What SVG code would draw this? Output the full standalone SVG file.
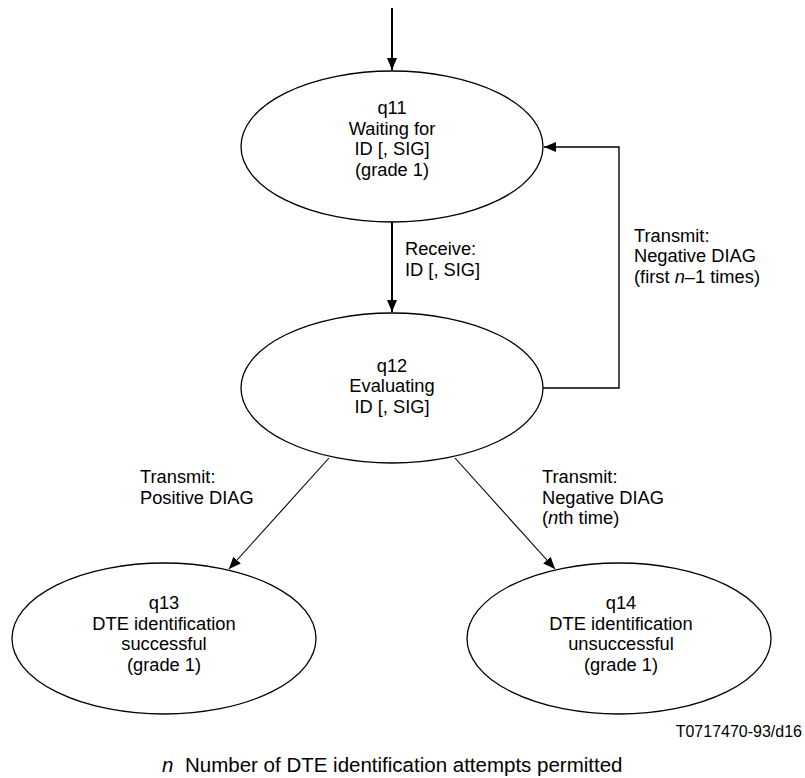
<svg xmlns="http://www.w3.org/2000/svg" width="805" height="778" viewBox="0 0 805 778">
<style>
text{font-family:"Liberation Sans",Arial,sans-serif;font-size:18.3px;fill:#000}
.c{text-anchor:middle}
.node{fill:#fff;stroke:#000;stroke-width:1.3}
.edge{fill:none;stroke:#000}
.i{font-style:italic}
</style>
<defs>
<marker id="ah" markerUnits="userSpaceOnUse" markerWidth="12" markerHeight="10" refX="12" refY="5" orient="auto">
<path d="M0,0 L12,5 L0,10 z" fill="#000"/>
</marker>
</defs>
<rect width="805" height="778" fill="#fff"/>
<g id="connectors">
<line class="edge" x1="392" y1="8" x2="392" y2="70" stroke-width="2" marker-end="url(#ah)"/>
<line class="edge" x1="392" y1="222" x2="392" y2="312" stroke-width="2" marker-end="url(#ah)"/>
<polyline class="edge" points="543,388 619,388 619,147 544,147" stroke-width="1.4" marker-end="url(#ah)"/>
<line class="edge" x1="329" y1="458" x2="229" y2="569" stroke-width="1.1" marker-end="url(#ah)"/>
<line class="edge" x1="455" y1="458" x2="555" y2="569" stroke-width="1.1" marker-end="url(#ah)"/>
<text x="405" y="255">Receive:<tspan x="405" y="275.5">ID [, SIG]</tspan></text>
<text x="634" y="241.5">Transmit:<tspan x="634" y="262">Negative DIAG</tspan><tspan x="634" y="282.5">(first <tspan class="i">n</tspan>–1 times)</tspan></text>
<text x="140" y="483.25">Transmit:<tspan x="140" y="503.75">Positive DIAG</tspan></text>
<text x="542" y="483">Transmit:<tspan x="542" y="503.5">Negative DIAG</tspan><tspan x="542" y="524">(<tspan class="i">n</tspan>th time)</tspan></text>
</g>
<g id="q11">
<ellipse class="node" cx="392" cy="146.5" rx="151" ry="75.5"/>
<text class="c" x="392" y="114">q11<tspan x="392" y="134.5">Waiting for</tspan><tspan x="392" y="155">ID [, SIG]</tspan><tspan x="392" y="175.5">(grade 1)</tspan></text>
</g>
<g id="q12">
<ellipse class="node" cx="392" cy="388" rx="151" ry="75"/>
<text class="c" x="392" y="371.5">q12<tspan x="392" y="392">Evaluating</tspan><tspan x="392" y="412.5">ID [, SIG]</tspan></text>
</g>
<g id="q13">
<ellipse class="node" cx="164" cy="638.5" rx="152" ry="75.5"/>
<text class="c" x="164" y="609">q13<tspan x="164" y="629.5">DTE identification</tspan><tspan x="164" y="650">successful</tspan><tspan x="164" y="670.5">(grade 1)</tspan></text>
</g>
<g id="q14">
<ellipse class="node" cx="619" cy="638.5" rx="152" ry="75.5"/>
<text class="c" x="621" y="609">q14<tspan x="621" y="629.5">DTE identification</tspan><tspan x="621" y="650">unsuccessful</tspan><tspan x="621" y="670.5">(grade 1)</tspan></text>
</g>
<g id="notes">
<text x="802" y="737" style="font-size:16px;text-anchor:end">T0717470-93/d16</text>
<text x="162" y="772" style="font-size:20.5px"><tspan class="i">n</tspan><tspan x="185">Number of DTE identification attempts permitted</tspan></text>
</g>
</svg>
